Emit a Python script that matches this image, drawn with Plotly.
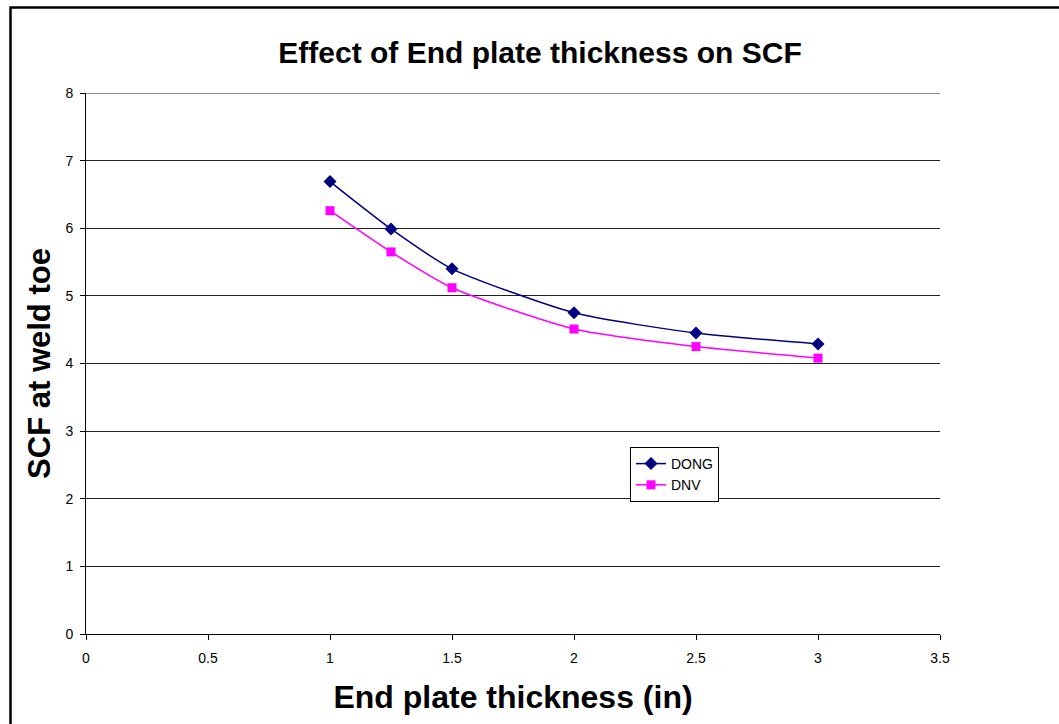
import plotly.graph_objects as go

thickness = [1, 1.25, 1.5, 2, 2.5, 3]
dong = [6.69, 5.99, 5.40, 4.75, 4.45, 4.29]
dnv = [6.26, 5.65, 5.12, 4.51, 4.25, 4.08]

W, H = 1059, 724
L, R, T, B = 86, 119, 93, 90
pw, ph = W - L - R, H - T - B

fig = go.Figure()
fig.add_trace(go.Scatter(x=thickness, y=dong, name="DONG", mode="lines+markers",
                         line=dict(color="#000080", width=1.5, shape="spline", smoothing=0.6),
                         marker=dict(symbol="diamond", size=10, color="#000080")))
fig.add_trace(go.Scatter(x=thickness, y=dnv, name="DNV", mode="lines+markers",
                         line=dict(color="#FF00FF", width=1.5, shape="spline", smoothing=0.6),
                         marker=dict(symbol="square", size=9, color="#FF00FF")))

font = "Liberation Sans, Arial, sans-serif"
fig.update_layout(
    width=W, height=H,
    margin=dict(l=L, r=R, t=T, b=B),
    paper_bgcolor="white", plot_bgcolor="white",
    font=dict(family=font, color="black"),
    title=dict(text="<b>Effect of End plate thickness on SCF</b>", x=540 / W, xanchor="center",
               y=1 - 52 / H, yanchor="middle", font=dict(size=30, family=font)),
    showlegend=True,
    legend=dict(x=(630 - L) / pw, y=(634 - 447) / ph, xanchor="left", yanchor="top",
                bordercolor="black", borderwidth=1, bgcolor="white",
                font=dict(size=14, family=font), tracegroupgap=0, itemwidth=30,
                entrywidth=62),
    xaxis=dict(range=[0, 3.5], dtick=0.5, tick0=0, showgrid=False, zeroline=False,
               showline=True, linecolor="black", linewidth=1, ticks="outside", ticklen=5,
               tickcolor="black", tickfont=dict(size=14), ticklabelstandoff=6,
               title=dict(text="<b>End plate thickness (in)</b>", font=dict(size=32), standoff=20)),
    yaxis=dict(range=[0, 8], dtick=1, showgrid=True, gridcolor="#222222", gridwidth=1,
               zeroline=False, showline=True, linecolor="black", linewidth=1,
               ticks="outside", ticklen=5, tickcolor="black", tickfont=dict(size=14),
               ticklabelstandoff=4,
               title=dict(text="<b>SCF at weld toe</b>", font=dict(size=31), standoff=5)),
)

fig.add_shape(type="line", xref="paper", yref="y", x0=0, x1=1, y0=8, y1=8,
              line=dict(color="#222222", width=1))
fig.add_shape(type="rect", xref="paper", yref="paper",
              x0=(10.5 - L) / pw, x1=(W + 20 - L) / pw,
              y0=(634 - (H + 20)) / ph, y1=(634 - 7.5) / ph,
              line=dict(color="black", width=2.5), fillcolor="rgba(0,0,0,0)", layer="above")

fig.write_html("out.html")
